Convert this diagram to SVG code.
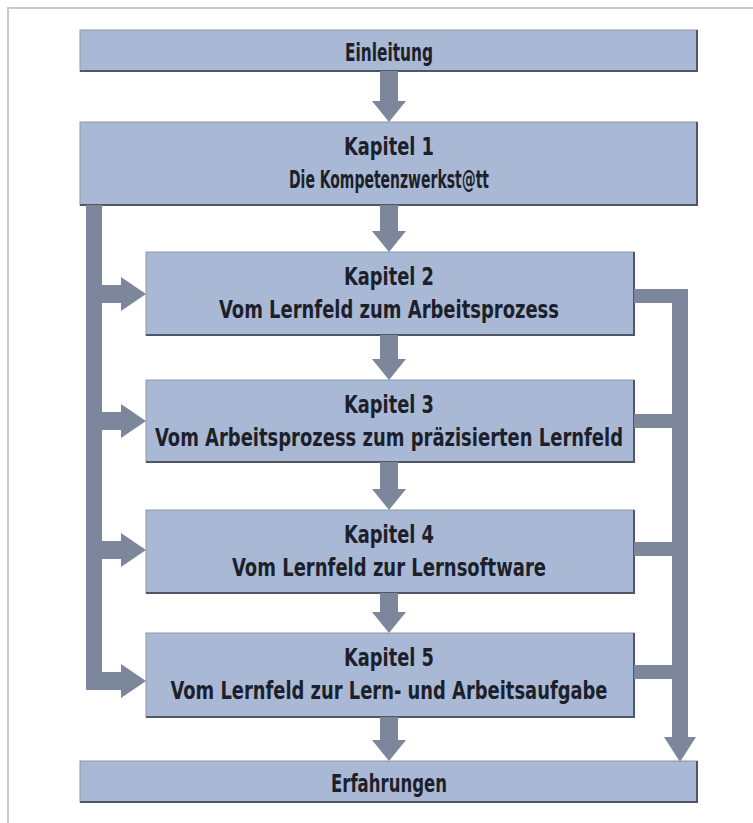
<svg xmlns="http://www.w3.org/2000/svg" width="753" height="823" viewBox="0 0 753 823">
<style>
.box{fill:#a9b9d5;stroke:#8d96a8;stroke-width:1}
.sh{fill:none;stroke:#4f5666;stroke-width:2}
.con{fill:#7d879c;stroke:none}
text{font-family:"Liberation Sans Narrow","DejaVu Sans Condensed","Liberation Sans",sans-serif;font-weight:bold;font-size:24px;fill:#1d1f2a;text-anchor:middle}
</style>
<rect x="0" y="0" width="753" height="823" fill="#ffffff"/>
<path d="M8 823 V8 H753" fill="none" stroke="#c9c9c9" stroke-width="2"/>

<g id="einleitung">
<rect class="box" x="80" y="30" width="617" height="41"/>
<path class="sh" d="M80 71 H697 V30"/>
<text x="389" y="61" textLength="88" lengthAdjust="spacingAndGlyphs">Einleitung</text>
</g>
<g id="kapitel1">
<rect class="box" x="80" y="122" width="617" height="83"/>
<path class="sh" d="M80 205 H697 V122"/>
<text x="389" y="155" textLength="90" lengthAdjust="spacingAndGlyphs">Kapitel 1</text>
<text x="389" y="188" textLength="200" lengthAdjust="spacingAndGlyphs">Die Kompetenzwerkst@tt</text>
</g>
<g id="kapitel2">
<rect class="box" x="146" y="252" width="488" height="83"/>
<path class="sh" d="M146 335 H634 V252"/>
<text x="389" y="285" textLength="90" lengthAdjust="spacingAndGlyphs">Kapitel 2</text>
<text x="389" y="318" textLength="340" lengthAdjust="spacingAndGlyphs">Vom Lernfeld zum Arbeitsprozess</text>
</g>
<g id="kapitel3">
<rect class="box" x="146" y="380" width="488" height="82"/>
<path class="sh" d="M146 462 H634 V380"/>
<text x="389" y="413" textLength="90" lengthAdjust="spacingAndGlyphs">Kapitel 3</text>
<text x="389" y="446" textLength="468" lengthAdjust="spacingAndGlyphs">Vom Arbeitsprozess zum präzisierten Lernfeld</text>
</g>
<g id="kapitel4">
<rect class="box" x="146" y="510" width="488" height="83"/>
<path class="sh" d="M146 593 H634 V510"/>
<text x="389" y="543" textLength="90" lengthAdjust="spacingAndGlyphs">Kapitel 4</text>
<text x="389" y="576" textLength="314" lengthAdjust="spacingAndGlyphs">Vom Lernfeld zur Lernsoftware</text>
</g>
<g id="kapitel5">
<rect class="box" x="146" y="633" width="488" height="84"/>
<path class="sh" d="M146 717 H634 V633"/>
<text x="389" y="666" textLength="90" lengthAdjust="spacingAndGlyphs">Kapitel 5</text>
<text x="389" y="699" textLength="437" lengthAdjust="spacingAndGlyphs">Vom Lernfeld zur Lern- und Arbeitsaufgabe</text>
</g>
<g id="erfahrungen">
<rect class="box" x="80" y="761" width="617" height="41"/>
<path class="sh" d="M80 802 H697 V761"/>
<text x="389" y="792" textLength="116" lengthAdjust="spacingAndGlyphs">Erfahrungen</text>
</g>

<g id="connectors">
<path class="con" d="M380 71 H398 V101 H406 L389 122 L372 101 H380 Z"/>
<path class="con" d="M380 205 H398 V231 H406 L389 252 L372 231 H380 Z"/>
<path class="con" d="M380 335 H398 V359 H406 L389 380 L372 359 H380 Z"/>
<path class="con" d="M380 462 H398 V489 H406 L389 510 L372 489 H380 Z"/>
<path class="con" d="M380 593 H398 V612 H406 L389 633 L372 612 H380 Z"/>
<path class="con" d="M380 717 H398 V740 H406 L389 761 L372 740 H380 Z"/>
<path class="con" d="M86 205 H102 V285 H121 V277 L146 294 L121 311 V303 H102 V412 H121 V404 L146 421 L121 438 V430 H102 V541 H121 V533 L146 550 L121 567 V559 H102 V672 H121 V664 L146 681 L121 698 V690 H86 Z"/>
<path class="con" d="M634 289 H688 V737 H696 L680 762 L664 737 H672 V679 H634 V665 H672 V556 H634 V542 H672 V428 H634 V414 H672 V303 H634 Z"/>
</g>
</svg>
